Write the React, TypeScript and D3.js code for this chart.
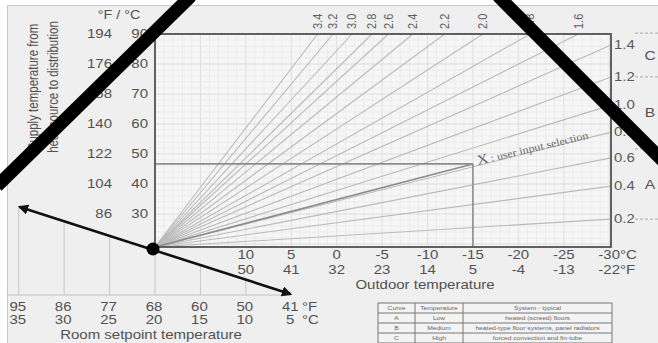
import React, { useEffect, useRef } from 'react';
import * as d3 from 'd3';

// supply temperature axis (left)
const supplyC = [90, 80, 70, 60, 50, 40, 30];
const supplyF = [194, 176, 158, 140, 122, 104, 86];

// outdoor temperature axis (bottom)
const outdoorC = [10, 5, 0, -5, -10, -15, -20, -25, -30];
const outdoorF = [50, 41, 32, 23, 14, 5, -4, -13, -22];

// room setpoint axis (bottom left)
const roomC = [35, 30, 25, 20, 15, 10, 5];
const roomF = [95, 86, 77, 68, 60, 50, 41];

// heating curves leaving through the top edge (outdoor temp where they reach 90 °C)
const topSlopes = ['3.4', '3.2', '3.0', '2.8', '2.6', '2.4', '2.2', '2.0', '1.8', '1.6'];
const topExitOutdoor = [2.1, 0.4, -1.7, -3.9, -5.7, -8.4, -11.9, -16.1, -21.3, -26.6];

// heating curves leaving through the right edge (supply temp at -30 °C)
const rightSlopes = ['1.4', '1.2', '1.0', '0.8', '0.6', '0.4', '0.2'];
const rightExitSupply = [86.3, 75.7, 66.3, 57.3, 48.7, 39.3, 28.3];

// user selection
const selectedOutdoor = -15;
const selectedSupply = 46.7;

// zones on the right
const zoneLetters = ['C', 'B', 'A'];
const zoneBounds = [90.3, 75.7, 51.7, 28.3];

const tableHeader = ['Curve', 'Temperature', 'System - typical'];
const tableRows = [
  ['A', 'Low', 'heated (screed) floors'],
  ['B', 'Medium', 'heated-type floor systems, panel radiators'],
  ['C', 'High', 'forced convection and fin-tube'],
];

const W = 658;
const H = 343;
const FONT = '"Liberation Sans", Arial, sans-serif';
const SX = 1.2;

type G = d3.Selection<SVGGElement, unknown, null, undefined>;

function label(
  g: G,
  x: number,
  y: number,
  s: string,
  o: { size?: number; anchor?: string; color?: string; rotate?: number; sx?: number; family?: string; mid?: boolean } = {}
) {
  const rot = o.rotate ? ` rotate(${o.rotate})` : '';
  return g
    .append('text')
    .attr('transform', `translate(${x},${y}) scale(${o.sx ?? SX},1)${rot}`)
    .attr('text-anchor', o.anchor || 'middle')
    .attr('dy', o.mid === false ? 0 : '0.35em')
    .attr('font-family', o.family || FONT)
    .attr('font-size', o.size || 12.5)
    .attr('fill', o.color || '#525252')
    .text(s);
}

const HeatingCurveChart: React.FC = () => {
  const svgRef = useRef<SVGSVGElement>(null);

  useEffect(() => {
    if (!svgRef.current) return;
    const svg = d3.select(svgRef.current);
    svg.selectAll('*').remove();

    const left = 155;
    const right = 611;
    const top = 34;
    const bottom = 247;

    const x = d3.scaleLinear().domain([20, -30.2]).range([left, right]);
    const y = d3.scaleLinear().domain([19, 90]).range([bottom, top]);

    const g = svg.append('g') as unknown as G;

    // page + frame
    g.append('rect').attr('width', W).attr('height', H).attr('fill', '#ffffff');
    g.append('rect')
      .attr('x', 7.5)
      .attr('y', 5.5)
      .attr('width', W)
      .attr('height', H)
      .attr('fill', '#efefef')
      .attr('stroke', '#c8c8c8');

    // plot background
    g.append('rect')
      .attr('x', left)
      .attr('y', top)
      .attr('width', right - left)
      .attr('height', bottom - top)
      .attr('fill', '#f6f6f6');

    // grid
    const grid = g.append('g');
    d3.range(19, -31, -1).forEach((t) => {
      grid
        .append('line')
        .attr('x1', x(t))
        .attr('x2', x(t))
        .attr('y1', top)
        .attr('y2', bottom)
        .attr('stroke', t % 5 === 0 ? '#dcdcdc' : '#ebebeb')
        .attr('stroke-width', 1);
    });
    d3.range(20, 91, 2).forEach((t) => {
      grid
        .append('line')
        .attr('x1', left)
        .attr('x2', right)
        .attr('y1', y(t))
        .attr('y2', y(t))
        .attr('stroke', t % 10 === 0 ? '#dcdcdc' : '#ebebeb')
        .attr('stroke-width', 1);
    });

    // heating curve fan
    const ox = x(20);
    const oy = y(19);
    const fan = g.append('g').attr('stroke', '#bababa').attr('stroke-width', 1.1).attr('fill', 'none');
    topExitOutdoor.forEach((t) => {
      fan.append('line').attr('x1', ox).attr('y1', oy).attr('x2', x(t)).attr('y2', y(90));
    });
    rightExitSupply.forEach((s) => {
      fan.append('line').attr('x1', ox).attr('y1', oy).attr('x2', right).attr('y2', y(s));
    });

    // selection lines
    const sx = x(selectedOutdoor);
    const sy = y(selectedSupply);
    const sel = g.append('g').attr('stroke', '#8c8c8c').attr('stroke-width', 1.6);
    sel.append('line').attr('x1', left).attr('x2', sx).attr('y1', sy).attr('y2', sy);
    sel.append('line').attr('x1', sx).attr('x2', sx).attr('y1', sy).attr('y2', bottom);
    sel.append('line').attr('x1', ox).attr('y1', oy).attr('x2', sx).attr('y2', sy);

    // selection text
    g.append('text')
      .attr('transform', `translate(${sx + 5},${sy + 1}) rotate(-13.5) scale(1.15,1)`)
      .attr('font-family', '"Liberation Serif", "DejaVu Serif", serif')
      .attr('fill', '#666')
      .call((t) => {
        t.append('tspan').attr('font-size', 14).text('X');
        t.append('tspan').attr('font-size', 10.5).attr('dx', 2).text(': user input selection');
      });

    // plot border
    g.append('rect')
      .attr('x', left)
      .attr('y', top)
      .attr('width', right - left)
      .attr('height', bottom - top)
      .attr('fill', 'none')
      .attr('stroke', '#606060')
      .attr('stroke-width', 2);

    // left axis labels
    label(g, 119, 15, '°F / °C', { size: 12 });
    supplyC.forEach((c, i) => {
      label(g, 148, y(c), String(c), { anchor: 'end' });
      label(g, 112, y(c), String(supplyF[i]), { anchor: 'end' });
    });
    label(g, 33, 87, 'Supply temperature from', { size: 11.5, rotate: -90 });
    label(g, 53, 87, 'heat source to distribution', { size: 11.5, rotate: -90 });

    // top slope labels
    topExitOutdoor.forEach((t, i) => {
      label(g, x(t), 29, topSlopes[i], { size: 11, rotate: -90, anchor: 'start', sx: 1.1, color: '#606060' });
    });

    // right slope labels
    rightExitSupply.forEach((s, i) => {
      label(g, 614, y(s), rightSlopes[i], { anchor: 'start', color: '#5a5a5a' });
    });

    // zones
    zoneBounds.forEach((b) => {
      g.append('line')
        .attr('x1', 635)
        .attr('x2', W)
        .attr('y1', y(b))
        .attr('y2', y(b))
        .attr('stroke', '#a8a8a8')
        .attr('stroke-dasharray', '3,2');
    });
    zoneLetters.forEach((z, i) => {
      label(g, 650, y((zoneBounds[i] + zoneBounds[i + 1]) / 2), z, { size: 13 });
    });

    // outdoor axis labels
    outdoorC.forEach((c, i) => {
      label(g, x(c), 255, String(c));
      label(g, x(c), 270, String(outdoorF[i]));
    });
    label(g, 620, 255, '°C', { anchor: 'start' });
    label(g, 620, 270, '°F', { anchor: 'start' });
    label(g, 425, 285, 'Outdoor temperature');

    // room setpoint axis
    const roomY = d3.scaleLinear().domain([35, 5]).range([207, 295]);
    const rx = (t: number) => x(t);
    const baseY = 295;
    g.append('line')
      .attr('x1', 7.5)
      .attr('x2', rx(5))
      .attr('y1', baseY)
      .attr('y2', baseY)
      .attr('stroke', '#c0c0c0');
    roomC.slice(0, 6).forEach((t) => {
      g.append('line')
        .attr('x1', rx(t))
        .attr('x2', rx(t))
        .attr('y1', roomY(t))
        .attr('y2', baseY)
        .attr('stroke', '#c8c8c8');
    });
    roomC.forEach((c, i) => {
      label(g, rx(c) - 1, 307, String(roomF[i]));
      label(g, rx(c) - 1, 320, String(c));
    });
    label(g, 302, 307, '°F', { anchor: 'start' });
    label(g, 302, 320, '°C', { anchor: 'start' });
    label(g, 151, 335, 'Room setpoint temperature');

    // arrow
    const defs = svg.append('defs');
    defs
      .append('marker')
      .attr('id', 'arr')
      .attr('viewBox', '0 0 10 10')
      .attr('refX', 8)
      .attr('refY', 5)
      .attr('markerWidth', 4)
      .attr('markerHeight', 4)
      .attr('orient', 'auto-start-reverse')
      .append('path')
      .attr('d', 'M0,0 L10,5 L0,10 Z')
      .attr('fill', '#111');
    g.append('line')
      .attr('x1', rx(35) + 1)
      .attr('y1', roomY(35))
      .attr('x2', rx(5) - 1)
      .attr('y2', roomY(5) - 1)
      .attr('stroke', '#111')
      .attr('stroke-width', 2.6)
      .attr('marker-start', 'url(#arr)')
      .attr('marker-end', 'url(#arr)');
    g.append('circle').attr('cx', ox - 2).attr('cy', oy + 2).attr('r', 6.5).attr('fill', '#000');

    // table
    const cols = [378, 415, 463, 612];
    const rows = [303, 313, 323, 333, 343];
    const tbl = g.append('g');
    tbl.append('rect')
      .attr('x', cols[0])
      .attr('y', rows[0])
      .attr('width', cols[3] - cols[0])
      .attr('height', rows[4] - rows[0])
      .attr('fill', '#f3f3f3')
      .attr('stroke', '#777');
    rows.slice(1, 4).forEach((r) => {
      tbl.append('line').attr('x1', cols[0]).attr('x2', cols[3]).attr('y1', r).attr('y2', r).attr('stroke', '#777');
    });
    cols.slice(1, 3).forEach((c) => {
      tbl.append('line').attr('x1', c).attr('x2', c).attr('y1', rows[0]).attr('y2', rows[4]).attr('stroke', '#777');
    });
    [tableHeader, ...tableRows].forEach((row, ri) => {
      row.forEach((cell, ci) => {
        label(tbl as G, (cols[ci] + cols[ci + 1]) / 2, (rows[ri] + rows[ri + 1]) / 2, cell, {
          size: 5.8,
          sx: 1.15,
          color: '#666',
        });
      });
    });

    // the big X overlay
    const cross = g.append('g').attr('stroke', '#000').attr('stroke-width', 13).attr('stroke-linecap', 'butt');
    cross.append('line').attr('x1', 191).attr('y1', -4).attr('x2', -3).attr('y2', 186);
    cross.append('line').attr('x1', 498).attr('y1', -4).attr('x2', 663).attr('y2', 161);
  }, []);

  return <svg ref={svgRef} width={W} height={H} style={{ position: 'absolute', left: 0, top: 0, display: 'block' }} />;
};

export default function App() {
  return <HeatingCurveChart />;
}
